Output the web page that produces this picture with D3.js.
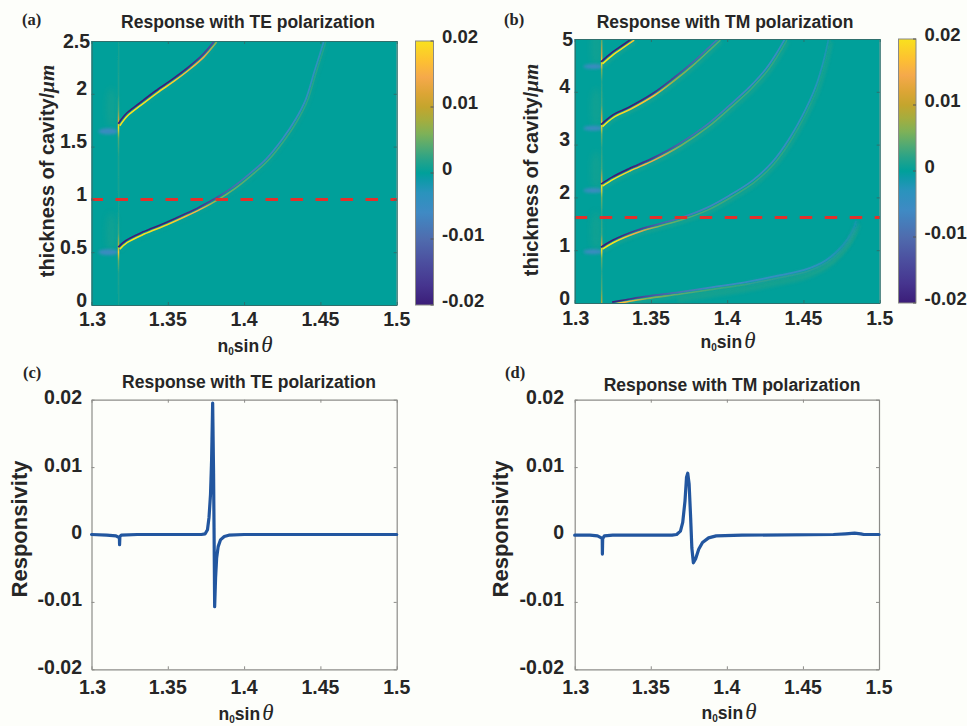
<!DOCTYPE html>
<html><head><meta charset="utf-8">
<script src="https://cdnjs.cloudflare.com/ajax/libs/d3/7.8.5/d3.min.js"></script>
<style>
html,body{margin:0;padding:0;background:#fdfefa}
svg{display:block}
text{font-family:"Liberation Sans",Arial,sans-serif;font-weight:700;fill:#262626}
</style></head><body>
<script>
// ---------- data ----------
const xTicks=[1.3,1.35,1.4,1.45,1.5];
const xTickLabels=["1.3","1.35","1.4","1.45","1.5"];
const respTicks=[-0.02,-0.01,0,0.01,0.02];
const respTickLabels=["-0.02","-0.01","0","0.01","0.02"];
const thickTicksTE=[0,0.5,1,1.5,2,2.5];
const thickTicksTM=[0,1,2,3,4,5];
const colorStops=[-0.02,-0.017,-0.0135,-0.01,-0.006,-0.003,-0.001,0,0.002,0.004,0.006,0.008,0.01,0.012,0.0145,0.017,0.02];
const colorValues=["#3b1d78","#46358f","#4c4f9f","#4f6cae","#3f8ac4","#2a93bd","#0d9aa8","#00a09a","#27a389","#53aa72","#7fb157","#a5ad3e","#c4a52d","#dca535","#f5a94b","#fdc131","#f9e11e"];

// Panel (a) ridges: n0 sin(theta), thickness, ridge strength
const te1X=[1.318,1.323,1.3317,1.3426,1.3536,1.3645,1.3732,1.3815];
const te1Y=[1.708,1.80,1.90,2.02,2.13,2.25,2.36,2.5];
const te1A=[0.02,0.02,0.02,0.019,0.018,0.016,0.014,0.012];
const te2X=[1.318,1.323,1.334,1.349,1.362,1.371,1.382,1.393,1.404,1.415,1.4257,1.4344,1.441,1.4464,1.453];
const te2Y=[0.54,0.603,0.682,0.77,0.855,0.918,1.004,1.108,1.234,1.376,1.566,1.755,1.944,2.197,2.5];
const te2A=[0.02,0.02,0.02,0.019,0.016,0.015,0.012,0.009,0.007,0.006,0.005,0.0045,0.004,0.0035,0.003];
const teRidges=[[te1X,te1Y,te1A],[te2X,te2Y,te2A]];
const teLineThick=[1.0];
const teResonance=[1.3177];
const teSpikeT=[0,0.3,0.42,0.5,0.58,0.68,0.9,1.4,1.58,1.68,1.74,1.85,2.0,2.5];
const teSpikeV=[0.001,0.0015,0.005,0.018,0.008,0.003,0.001,0.0015,0.004,0.02,0.012,0.004,0.0015,0.001];
const teBlueBlobX=[1.311,1.311];
const teBlueBlobY=[1.645,0.5];
const teGreenBlobX=[1.313,1.313];
const teGreenBlobY=[1.87,0.68];

// Panel (b) ridges
const tm1X=[1.3177,1.325,1.332,1.3385];
const tm1Y=[4.55,4.73,4.87,5];
const tm1A=[0.02,0.02,0.019,0.017];
const tm2X=[1.3177,1.325,1.336,1.3516,1.3647,1.378,1.3887,1.395];
const tm2Y=[3.36,3.535,3.69,3.95,4.23,4.545,4.83,5];
const tm2A=[0.02,0.02,0.018,0.016,0.013,0.01,0.008,0.007];
const tm3X=[1.3177,1.325,1.336,1.3516,1.369,1.3866,1.4019,1.415,1.4259,1.4325,1.4386];
const tm3Y=[2.235,2.367,2.525,2.727,3.0,3.346,3.725,4.07,4.42,4.70,5];
const tm3A=[0.02,0.02,0.018,0.014,0.01,0.0075,0.0065,0.0055,0.005,0.0045,0.004];
const tm4X=[1.3177,1.325,1.3407,1.356,1.3713,1.3866,1.4019,1.417,1.43,1.441,1.452,1.4587,1.464,1.467];
const tm4Y=[1.04,1.168,1.357,1.484,1.61,1.78,2.02,2.30,2.65,3.09,3.66,4.10,4.61,5];
const tm4A=[0.02,0.02,0.014,0.01,0.0075,0.006,0.0055,0.005,0.0045,0.004,0.0032,0.0025,0.002,0.0015];
const tm5X=[1.325,1.334,1.347,1.369,1.391,1.4128,1.4346,1.452,1.465,1.476,1.4827,1.485];
const tm5Y=[0,0.044,0.107,0.19,0.284,0.379,0.505,0.619,0.789,1.07,1.357,1.547];
const tm5A=[0.018,0.016,0.012,0.008,0.0055,0.0045,0.004,0.0035,0.0025,0.0015,0.001,0.0006];
const tmRidges=[[tm1X,tm1Y,tm1A],[tm2X,tm2Y,tm2A],[tm3X,tm3Y,tm3A],[tm4X,tm4Y,tm4A],[tm5X,tm5Y,tm5A]];
const tmLineThick=[1.62];
const tmResonance=[1.3177];
const tmSpikeT=[0,0.25,0.6,0.85,1.0,1.1,1.3,1.7,2.0,2.2,2.3,2.55,2.95,3.2,3.36,3.48,3.75,4.2,4.42,4.55,4.68,5];
const tmSpikeV=[0.009,0.004,0.002,0.005,0.02,0.012,0.003,0.002,0.005,0.02,0.012,0.003,0.002,0.005,0.02,0.012,0.003,0.002,0.006,0.02,0.012,0.004];
const tmBlueBlobX=[1.3122,1.3122,1.3122,1.3122];
const tmBlueBlobY=[4.48,3.31,2.13,0.97];
const tmGreenBlobX=[1.314,1.314,1.314,1.314];
const tmGreenBlobY=[4.85,3.7,2.5,1.35];

// Panels (c) and (d) curves
const teCurveX=[1.3,1.31,1.316,1.3175,1.3183,1.3184,1.3186,1.3195,1.33,1.36,1.372,1.3745,1.376,1.377,1.378,1.3787,1.3794,1.38,1.3803,1.3807,1.3813,1.382,1.383,1.3845,1.387,1.39,1.4,1.45,1.5];
const teCurveY=[0,-0.0001,-0.0002,-0.0004,-0.0005,-0.0015,-0.0003,-0.0001,0,0,0,0.0001,0.0007,0.0025,0.006,0.011,0.0195,0.009,0.001,-0.0107,-0.0065,-0.0035,-0.0018,-0.0008,-0.0003,-0.0001,0,0,0];
const tmCurveX=[1.3,1.31,1.315,1.3175,1.3181,1.3182,1.3184,1.3195,1.325,1.35,1.364,1.367,1.3695,1.371,1.3725,1.3735,1.3743,1.3752,1.3762,1.377,1.378,1.3795,1.3815,1.384,1.388,1.393,1.41,1.47,1.478,1.484,1.488,1.49,1.5];
const tmCurveY=[-0.0001,-0.0001,-0.0002,-0.0005,-0.0006,-0.0029,-0.0006,-0.0002,-0.0001,-0.0001,-0.0001,0,0.0005,0.0018,0.005,0.0085,0.0091,0.0075,0.0025,-0.002,-0.0042,-0.0036,-0.0022,-0.0012,-0.0005,-0.0002,-0.0001,0,0.0001,0.0002,0.0001,0,0];

// ---------- drawing ----------
const W=967,H=726;
const svg=d3.select("body").append("svg").attr("width",W).attr("height",H);
svg.append("rect").attr("width",W).attr("height",H).attr("fill","#fdfefa");
const defs=svg.append("defs");
[["b1",0.45],["b2",1.6],["b3",3]].forEach(([id,s])=>{
  defs.append("filter").attr("id",id).attr("x","-50%").attr("y","-50%").attr("width","200%").attr("height","200%")
    .append("feGaussianBlur").attr("stdDeviation",s);
});
const color=d3.scaleLinear().domain(colorStops).range(colorValues).clamp(true);
const tealBg=color(0);
let uid=0;

function axes(g,xs,ys,yTicks,frame,tickCol){
  const [l,r,t,b]=frame;
  const mk=(ax,tr)=>{const a=g.append("g").attr("transform",tr).call(ax);
    a.selectAll("text").remove();a.select(".domain").attr("stroke",tickCol).attr("stroke-width",1.2);
    a.selectAll("line").attr("stroke",tickCol).attr("stroke-width",1);};
  mk(d3.axisBottom(xs).tickValues(xTicks).tickSize(-3).tickSizeOuter(0),`translate(0,${b})`);
  mk(d3.axisTop(xs).tickValues(xTicks).tickSize(-3).tickSizeOuter(0),`translate(0,${t})`);
  mk(d3.axisLeft(ys).tickValues(yTicks).tickSize(-3).tickSizeOuter(0),`translate(${l},0)`);
  mk(d3.axisRight(ys).tickValues(yTicks).tickSize(-3).tickSizeOuter(0),`translate(${r},0)`);
}
function xLabels(g,xs,baseline){
  g.selectAll(null).data(xTicks).enter().append("text")
    .attr("x",(d,i)=>xs(d)+(i==0?1:0)).attr("y",baseline).attr("text-anchor","middle").attr("font-size",19.5)
    .text((d,i)=>xTickLabels[i]);
}
function nLabel(g,cx,base){
  const t=g.append("text").attr("x",cx).attr("y",base).attr("text-anchor","middle").attr("font-size",17.5);
  t.append("tspan").text("n");
  t.append("tspan").text("0").attr("font-size",10).attr("dy",3);
  t.append("tspan").text("sin").attr("dy",-3);
  t.append("tspan").text("θ").attr("dx",2).attr("font-size",23)
    .style("font-family","'Liberation Serif',serif").style("font-style","italic").style("font-weight",400);
}
function common(g,o){
  g.append("text").attr("x",o.titleX).attr("y",o.titleY).attr("text-anchor","middle").attr("font-size",17.5).attr("fill","#1c1c1c").text(o.title);
  g.append("text").attr("x",o.tagX).attr("y",o.tagY).attr("font-size",16.5)
    .style("font-family","'Liberation Serif',serif").text(o.tag);
}

function heat(o){
  const g=svg.append("g");
  const [l,r,t,b]=o.frame;
  const xs=d3.scaleLinear().domain([1.3,1.5]).range([l,r]);
  const ys=d3.scaleLinear().domain(o.yDomain).range([b,t]);
  const id="clip"+(++uid);
  defs.append("clipPath").attr("id",id).append("rect").attr("x",l).attr("y",t).attr("width",r-l).attr("height",b-t);
  g.append("rect").attr("x",l).attr("y",t).attr("width",r-l).attr("height",b-t).attr("fill",tealBg);
  const p=g.append("g").attr("clip-path",`url(#${id})`);
  // diffuse lobes near the resonance
  const blobs=(bx,by,val,rx,ry,op,f)=>p.selectAll(null).data(bx).enter().append("ellipse")
    .attr("cx",d=>xs(d)).attr("cy",(d,i)=>ys(by[i])).attr("rx",rx).attr("ry",ry)
    .attr("fill",color(val)).attr("opacity",op).attr("filter",f);
  blobs(o.greenX,o.greenY,0.002,5,20,0.45,"url(#b3)");
  blobs(o.blueX,o.blueY,-0.006,o.blobRx,o.blobRy,0.95,"url(#b2)");
  // resonance line
  o.resonance.forEach(x0=>{
    const gid="sp"+(++uid);
    const gr=defs.append("linearGradient").attr("id",gid).attr("gradientUnits","userSpaceOnUse")
      .attr("x1",0).attr("x2",0).attr("y1",b).attr("y2",t);
    o.spikeT.forEach((tv,i)=>gr.append("stop").attr("offset",(tv-o.yDomain[0])/(o.yDomain[1]-o.yDomain[0])).attr("stop-color",color(o.spikeV[i])));
    p.append("rect").attr("x",xs(x0)-0.75).attr("y",t).attr("width",1.5).attr("height",b-t).attr("fill",`url(#${gid})`).attr("filter","url(#b1)");
  });
  const line=d3.line().x(d=>xs(d[0])).y(d=>ys(d[1])).curve(d3.curveCatmullRom.alpha(0.5));
  o.ridges.forEach(([X,Y,A])=>{
    const pts=X.map((x,i)=>[x,Y[i]]);
    const grad=(val)=>{
      const gid="rg"+(++uid);
      const gr=defs.append("linearGradient").attr("id",gid).attr("gradientUnits","userSpaceOnUse")
        .attr("x1",xs(X[0])).attr("x2",xs(X[X.length-1])).attr("y1",0).attr("y2",0);
      X.forEach((x,i)=>gr.append("stop").attr("offset",(x-X[0])/(X[X.length-1]-X[0])).attr("stop-color",color(val(A[i]))));
      return `url(#${gid})`;
    };
    // wide soft halo under each ridge
    p.append("path").attr("d",line(pts)).attr("fill","none").attr("stroke",color(0.0022)).attr("stroke-width",o.halo)
      .attr("opacity",o.haloOp).attr("transform","translate(2,3)").attr("filter","url(#b2)");
    p.append("path").attr("d",line(pts)).attr("fill","none").attr("stroke",grad(a=>a>=0.014?a:a*0.55)).attr("stroke-width",1.6)
      .attr("transform","translate(0.8,1.1)").attr("filter","url(#b1)");
    p.append("path").attr("d",line(pts)).attr("fill","none").attr("stroke",grad(a=>-Math.min(0.02,a*1.15))).attr("stroke-width",1.7)
      .attr("transform","translate(-0.7,-0.9)").attr("filter","url(#b1)");
  });
  // double lobes around the lowest TM ridge
  if(o.wide){
    const pts=o.wide.X.map((x,i)=>[x,o.wide.Y[i]]);
    p.append("path").attr("d",line(pts.slice(3))).attr("fill","none").attr("stroke",color(0.002)).attr("stroke-width",5)
      .attr("opacity",0.5).attr("transform","translate(-2,7)").attr("filter","url(#b2)");
    p.append("path").attr("d",line(pts.slice(5))).attr("fill","none").attr("stroke",color(-0.004)).attr("stroke-width",3)
      .attr("opacity",0.45).attr("filter","url(#b2)");
  }
  // reference thickness
  p.selectAll(null).data(o.lineThick).enter().append("line")
    .attr("x1",l+o.dashShift).attr("x2",r+1).attr("y1",d=>ys(d)).attr("y2",d=>ys(d))
    .attr("stroke","#e2302b").attr("stroke-width",3).attr("stroke-dasharray","12.5 12.5");
  axes(g,xs,ys,o.yTicks,o.frame,o.frameCol);
  xLabels(g,xs,o.xLabelBase);
  g.selectAll(null).data(o.yTicks).enter().append("text")
    .attr("x",(d,i)=>i==o.yTicks.length-1?o.tickRight+3:o.tickRight)
    .attr("y",(d,i)=>ys(d)+(i==o.yTicks.length-1?7:1.5)).attr("text-anchor","end").attr("font-size",19.5).text(d=>d);
  g.append("text").attr("transform",`translate(${o.yTitleX},${(t+b)/2+o.yTitleDy}) rotate(-90)`).attr("text-anchor","middle").attr("font-size",20)
    .call(s=>{s.append("tspan").text("thickness of cavity/");
      s.append("tspan").text("μm").style("font-family","'Liberation Serif',serif").style("font-style","italic").style("font-weight",700).attr("font-size",21);});
  nLabel(g,o.xTitleX,o.xTitleY);
  common(g,o);
  // colorbar
  const [cl,cr]=o.cbar;
  const cs=d3.scaleLinear().domain([-0.02,0.02]).range([b,t]);
  const cid="cb"+(++uid);
  const cg=defs.append("linearGradient").attr("id",cid).attr("x1",0).attr("x2",0).attr("y1",1).attr("y2",0);
  colorStops.forEach((v,i)=>cg.append("stop").attr("offset",(v+0.02)/0.04).attr("stop-color",colorValues[i]));
  g.append("rect").attr("x",cl).attr("y",t).attr("width",cr-cl).attr("height",b-t).attr("fill",`url(#${cid})`).attr("stroke","#8a8a86").attr("stroke-width",1);
  g.selectAll(null).data(respTicks).enter().append("line").attr("x1",cr-3).attr("x2",cr).attr("y1",d=>cs(d)).attr("y2",d=>cs(d)).attr("stroke","#555").attr("stroke-width",1);
  g.selectAll(null).data(respTicks).enter().append("text").attr("x",cr+8.5).attr("y",d=>cs(d)+1.5).attr("font-size",18.5).text((d,i)=>respTickLabels[i]);
}

function curve(o){
  const g=svg.append("g");
  const [l,r,t,b]=o.frame;
  const xs=d3.scaleLinear().domain([1.3,1.5]).range([l,r]);
  const ys=d3.scaleLinear().domain([-0.02,0.02]).range([b,t]);
  axes(g,xs,ys,respTicks,o.frame,"#8c8c88");
  const line=d3.line().x((d,i)=>xs(d)).y((d,i)=>ys(o.y[i])).curve(d3.curveLinear);
  g.append("path").attr("d",line(o.x)).attr("fill","none").attr("stroke","#22569f").attr("stroke-width",3.2)
    .attr("stroke-linejoin","round").attr("stroke-linecap","round").attr("filter","url(#b1)");
  xLabels(g,xs,o.xLabelBase);
  g.selectAll(null).data(respTicks).enter().append("text").attr("x",o.tickRight).attr("y",d=>ys(d)+4.5)
    .attr("text-anchor","end").attr("font-size",19.5).text((d,i)=>respTickLabels[i]);
  g.append("text").attr("transform",`translate(${o.yTitleX},529) rotate(-90)`).attr("text-anchor","middle").attr("font-size",22).text("Responsivity");
  nLabel(g,o.xTitleX,o.xTitleY);
  common(g,o);
}

heat({frame:[91.5,396.7,41,305],yDomain:[0,2.5],yTicks:thickTicksTE,ridges:teRidges,lineThick:teLineThick,resonance:teResonance,
  spikeT:teSpikeT,spikeV:teSpikeV,blueX:teBlueBlobX,blueY:teBlueBlobY,greenX:teGreenBlobX,greenY:teGreenBlobY,blobRx:10,blobRy:3,halo:1.2,haloOp:0.4,
  dashShift:-1,frameCol:"#2f6f6c",xLabelBase:326,tickRight:87,yTitleX:54,yTitleDy:-2,xTitleX:245,xTitleY:352,
  title:"Response with TE polarization",titleX:248,titleY:28,tag:"(a)",tagX:22,tagY:25,cbar:[415.5,433.5]});
heat({frame:[574.7,879.7,39,303],yDomain:[0,5],yTicks:thickTicksTM,ridges:tmRidges,lineThick:tmLineThick,resonance:tmResonance,
  spikeT:tmSpikeT,spikeV:tmSpikeV,blueX:tmBlueBlobX,blueY:tmBlueBlobY,greenX:tmGreenBlobX,greenY:tmGreenBlobY,blobRx:10,blobRy:2.5,halo:3,haloOp:0.55,
  wide:{X:tm5X,Y:tm5Y},dashShift:0,frameCol:"#2f6f6c",xLabelBase:325,tickRight:570,yTitleX:538,yTitleDy:-1,xTitleX:728,xTitleY:348,
  title:"Response with TM polarization",titleX:725,titleY:28,tag:"(b)",tagX:504,tagY:25,cbar:[898.5,916]});
curve({frame:[91.5,396.7,399.7,669.3],x:teCurveX,y:teCurveY,xLabelBase:694,tickRight:82,yTitleX:27,xTitleX:246,xTitleY:720,
  title:"Response with TE polarization",titleX:249,titleY:388,tag:"(c)",tagX:23,tagY:378});
curve({frame:[574.7,879,399.7,669.3],x:tmCurveX,y:tmCurveY,xLabelBase:694,tickRight:564,yTitleX:508,xTitleX:729,xTitleY:719,
  title:"Response with TM polarization",titleX:732,titleY:391,tag:"(d)",tagX:505,tagY:378});
</script>
</body></html>
